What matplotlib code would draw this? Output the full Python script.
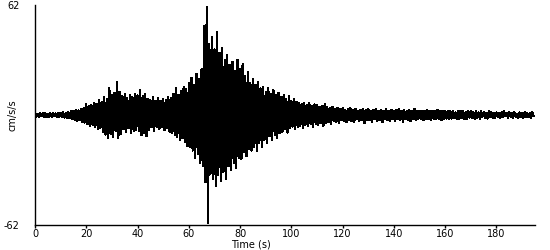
import numpy as np
import matplotlib as mpl
import matplotlib.pyplot as plt

mpl.use('Agg')

# envelope of the record, one pair per second (cm/s/s)
seconds = np.arange(0, 195)
peak_up = [
    1.0, 0.8, 1.2, 0.9, 1.1, 0.8, 1.0, 1.2, 0.9, 1.1,
    1.2, 1.5, 1.3, 1.8, 2.2, 2.5, 3.0, 2.6, 3.4, 3.8,
    6.0, 4.8, 5.5, 7.0, 6.2, 8.5, 7.4, 10.0, 9.0, 15.0,
    11.0, 12.5, 18.5, 13.0, 10.5, 12.0, 9.5, 11.5, 10.0, 12.0,
    11.0, 14.0, 10.5, 12.0, 9.0, 8.5, 10.0, 8.0, 9.5, 8.0,
    9.0, 8.5, 10.0, 9.5, 12.0, 15.0, 11.5, 13.5, 16.0, 14.5,
    18.0, 21.0, 17.0, 23.0, 20.0, 26.0, 50.0, 61.0, 40.0, 44.0,
    37.0, 47.0, 35.0, 38.0, 31.0, 34.0, 28.0, 30.0, 25.0, 31.0,
    26.0, 29.0, 22.0, 24.0, 18.0, 20.0, 17.0, 18.5, 15.0, 16.0,
    13.0, 15.0, 12.0, 14.0, 11.0, 12.5, 10.0, 11.0, 9.0, 10.5,
    8.0, 9.0, 7.5, 7.0, 6.0, 7.0, 5.5, 6.5, 5.0, 6.0,
    5.5, 4.5, 5.0, 6.0, 4.5, 4.0, 4.5, 3.5, 4.0, 3.5,
    4.0, 3.0, 3.5, 4.0, 3.0, 3.5, 2.5, 3.0, 3.5, 3.0,
    3.5, 2.5, 3.0, 3.5, 2.5, 3.0, 2.5, 3.5, 2.5, 3.0,
    2.5, 3.0, 3.5, 2.5, 3.0, 2.0, 3.0, 2.5, 3.5, 2.0,
    2.5, 2.0, 2.5, 3.0, 2.0, 2.5, 2.0, 3.0, 2.0, 2.5,
    2.0, 2.5, 2.0, 2.5, 1.5, 2.0, 2.5, 2.0, 1.5, 2.0,
    2.0, 1.5, 2.0, 1.5, 2.0, 1.5, 1.0, 2.0, 1.5, 1.0,
    1.5, 1.0, 1.5, 2.0, 1.0, 1.5, 1.0, 1.5, 0.5, 1.5,
    1.0, 1.5, 1.0, 1.0, 1.5,
]
peak_down = [
    -0.9, -1.1, -0.8, -1.0, -1.2, -0.9, -1.0, -0.8, -1.1, -1.0,
    -1.1, -1.4, -1.6, -1.9, -2.4, -2.8, -3.5, -3.0, -3.9, -4.2,
    -5.0, -6.2, -5.5, -7.0, -8.0, -7.2, -9.5, -11.0, -13.0, -10.5,
    -12.5, -9.0, -13.0, -10.5, -8.0, -9.5, -7.5, -10.0, -9.0, -8.5,
    -9.0, -11.5, -10.0, -12.0, -8.5, -7.0, -9.0, -6.5, -8.0, -7.0,
    -8.5, -7.5, -9.5, -10.0, -11.0, -12.5, -14.0, -13.0, -15.0, -17.5,
    -18.0, -20.0, -24.0, -22.0, -27.0, -29.0, -38.0, -61.0, -33.0, -36.0,
    -40.0, -34.0, -37.0, -32.0, -36.0, -29.0, -31.0, -27.0, -30.0, -24.0,
    -25.0, -21.0, -23.0, -19.0, -20.0, -18.0, -20.0, -16.0, -18.0, -14.0,
    -16.0, -12.0, -14.0, -11.0, -13.0, -10.0, -9.5, -8.0, -10.0, -7.5,
    -6.5, -8.0, -7.0, -6.0, -7.5, -5.5, -6.0, -5.0, -6.5, -5.0,
    -5.5, -4.5, -6.0, -4.5, -4.0, -5.0, -3.5, -4.0, -4.5, -3.0,
    -3.5, -4.0, -3.0, -3.5, -4.0, -2.5, -3.5, -3.0, -4.5, -3.0,
    -3.0, -4.0, -2.5, -3.5, -3.0, -4.0, -2.5, -3.0, -3.5, -2.5,
    -3.5, -2.5, -3.0, -4.0, -2.5, -3.0, -3.5, -2.0, -3.0, -2.5,
    -2.5, -3.0, -2.0, -2.5, -3.0, -2.0, -2.5, -2.0, -3.0, -2.0,
    -2.0, -2.5, -2.0, -1.5, -2.5, -2.0, -1.5, -2.5, -2.0, -1.5,
    -1.5, -2.0, -1.5, -2.0, -1.0, -1.5, -2.0, -1.0, -1.5, -1.5,
    -1.0, -1.5, -1.0, -0.5, -1.5, -1.0, -1.5, -1.0, -1.5, -1.0,
    -1.5, -1.0, -1.0, -1.5, -0.5,
]
x_ticks = [0, 20, 40, 60, 80, 100, 120, 140, 160, 180]
y_ticks = [-62, 62]

plt.rcParams['font.family'] = 'DejaVu Sans'
plt.rcParams['font.size'] = 7
plt.rcParams['axes.unicode_minus'] = False

# trace zigzags between the up and down peak of every second
tempo = np.column_stack([seconds, seconds + 0.5]).ravel()
valor = np.column_stack([peak_up, peak_down]).ravel()

fig = plt.figure(figsize=(5.5, 2.5), dpi=100)
ax = fig.add_axes([0.0636, 0.1, 0.909, 0.88])
ax.plot(tempo, valor, color='black', lw=0.9, antialiased=False)

ax.set_xlim(0, 195)
ax.set_ylim(-62, 62)
ax.set_xticks(x_ticks)
ax.set_yticks(y_ticks)
ax.tick_params(axis='x', length=2, width=1, pad=1)
ax.tick_params(axis='y', length=0, pad=11)
for lado in ['top', 'right']:
    ax.spines[lado].set_visible(False)
for lado in ['left', 'bottom']:
    ax.spines[lado].set_linewidth(1)

ax.set_xlabel('Time (s)')
ax.xaxis.set_label_coords(0.432, -0.065)
ax.set_ylabel('cm/s/s')
ax.yaxis.set_label_coords(-0.034, 0.5)

fig.savefig('out.png', dpi=100)
